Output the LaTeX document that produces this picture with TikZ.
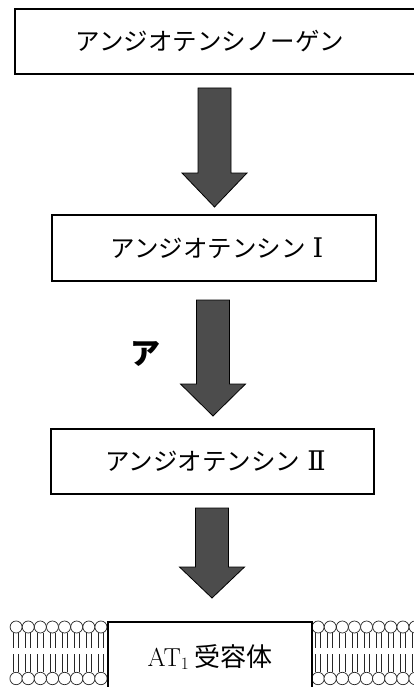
\documentclass[tikz,border=0pt]{standalone}
\usepackage{fontspec}
\newfontfamily\jp{Noto Sans CJK JP}
\newfontfamily\numfont{DejaVu Serif}
\usetikzlibrary{positioning}

\tikzset{
  box/.style={draw=black, line width=1.1pt, fill=white, inner sep=0pt},
  arrowfill/.style={draw=black, line width=0.8pt, fill=black!70, line join=miter},
  lipid/.style={draw=black!85, line width=0.7pt},
}

% big block arrow: x centre, shaft top, head top, tip
\def\fatarrow(#1,#2,#3,#4){\draw[arrowfill] (#1-16.5,#2) -- (#1+16.5,#2) -- (#1+16.5,#3) -- (#1+32.5,#3) -- (#1,#4) -- (#1-32.5,#3) -- (#1-16.5,#3) -- cycle;}

% one lipid: two heads and their tails
\def\lipid(#1){
  \draw[lipid, fill=white] (#1,627) circle (6);
  \draw[lipid, fill=white] (#1,678.5) circle (6.2);
  \draw[lipid] (#1-2.6,633) -- (#1-2.6,648) (#1+2.6,633) -- (#1+2.6,648);
  \draw[lipid] (#1-2.6,654) -- (#1-2.6,672.3) (#1+2.6,654) -- (#1+2.6,672.3);
}

\newcommand\boxtext[1]{\jp\fontsize{24.5}{24.5}\selectfont #1}
\newcommand\numeral[1]{\hspace{7pt}{\numfont\fontsize{27}{27}\selectfont #1}}

\begin{document}
\begin{tikzpicture}[x=1pt, y=-1pt]
  \useasboundingbox[fill=white] (0,0) rectangle (413,687);

  %%%%% boxes %%%%%
  \draw[box] (430,9) -- (15,9) -- (15,74) -- (430,74);
  \node (agen) at (210,41.5) {\boxtext{アンジオテンシノーゲン}};

  \node[box, minimum width=324pt, minimum height=66pt] (ang1) at (214,248)
    {\hspace{6pt}\boxtext{アンジオテンシン}\numeral{Ⅰ}};

  \node[box, minimum width=323pt, minimum height=65pt] (ang2) at (212.5,461.5)
    {\hspace{6pt}\boxtext{アンジオテンシン}\numeral{Ⅱ}};

  %%%%% arrows %%%%%
  \fatarrow(214.5,88,173,207)
  \fatarrow(213,300,384,416)
  \fatarrow(212,508,567,598)

  \node (enz) at (145,354) {\jp\bfseries\fontsize{30}{30}\selectfont ア};

  %%%%% membrane %%%%%
  \foreach \i in {0,...,7} {\lipid(16.1+12.12*\i)}
  \foreach \i in {0,...,8} {\lipid(318.1+12.12*\i)}

  \node[box, minimum width=204pt, minimum height=70pt] (at1) at (210,657)
    {\fontsize{26}{26}\selectfont AT$_1$\hspace{5pt}{\jp\fontsize{26}{26}\selectfont 受容体}};
\end{tikzpicture}
\end{document}
